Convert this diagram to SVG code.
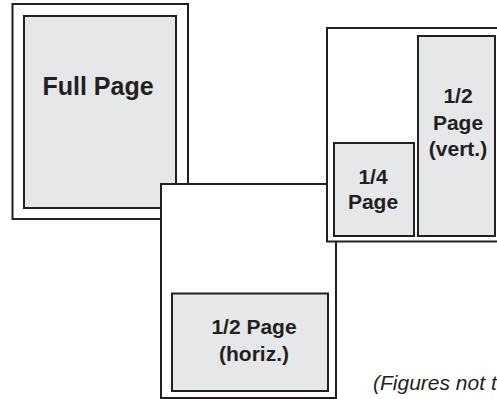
<svg xmlns="http://www.w3.org/2000/svg" width="497" height="399" viewBox="0 0 497 399">
<style>
.frame{fill:#ffffff;stroke:#231f20;stroke-width:2}
.ad{fill:#e6e7e8;stroke:#231f20;stroke-width:2}
.lbl{font-family:"Liberation Sans",Arial,sans-serif;font-weight:bold;font-size:21px;fill:#231f20;text-anchor:middle}
.big{font-size:25px}
.note{font-family:"Liberation Sans",Arial,sans-serif;font-style:italic;font-size:21px;fill:#231f20}
</style>
<rect width="497" height="399" fill="#ffffff"/>
<g id="full-page">
<rect class="frame" x="12.5" y="4" width="175.5" height="215"/>
<rect class="ad" x="24" y="16" width="152" height="192"/>
<text class="lbl big" x="98" y="95">Full Page</text>
</g>
<g id="half-horiz-page">
<rect class="frame" x="161" y="184" width="175" height="214"/>
<rect class="ad" x="172" y="293.5" width="156" height="97.5"/>
<text class="lbl" x="254" y="334">1/2 Page</text>
<text class="lbl" x="254" y="361">(horiz.)</text>
</g>
<g id="quarter-half-vert-page">
<rect class="frame" x="327" y="28" width="185" height="213.5"/>
<rect class="ad" x="334" y="143" width="80" height="93"/>
<text class="lbl" x="373" y="184">1/4</text>
<text class="lbl" x="373" y="209">Page</text>
<rect class="ad" x="418" y="36" width="77" height="200"/>
<text class="lbl" x="458" y="103">1/2</text>
<text class="lbl" x="458" y="130">Page</text>
<text class="lbl" x="458" y="156">(vert.)</text>
</g>
<g id="connectors"></g>
<text class="note" x="373" y="390">(Figures not t</text>
</svg>
